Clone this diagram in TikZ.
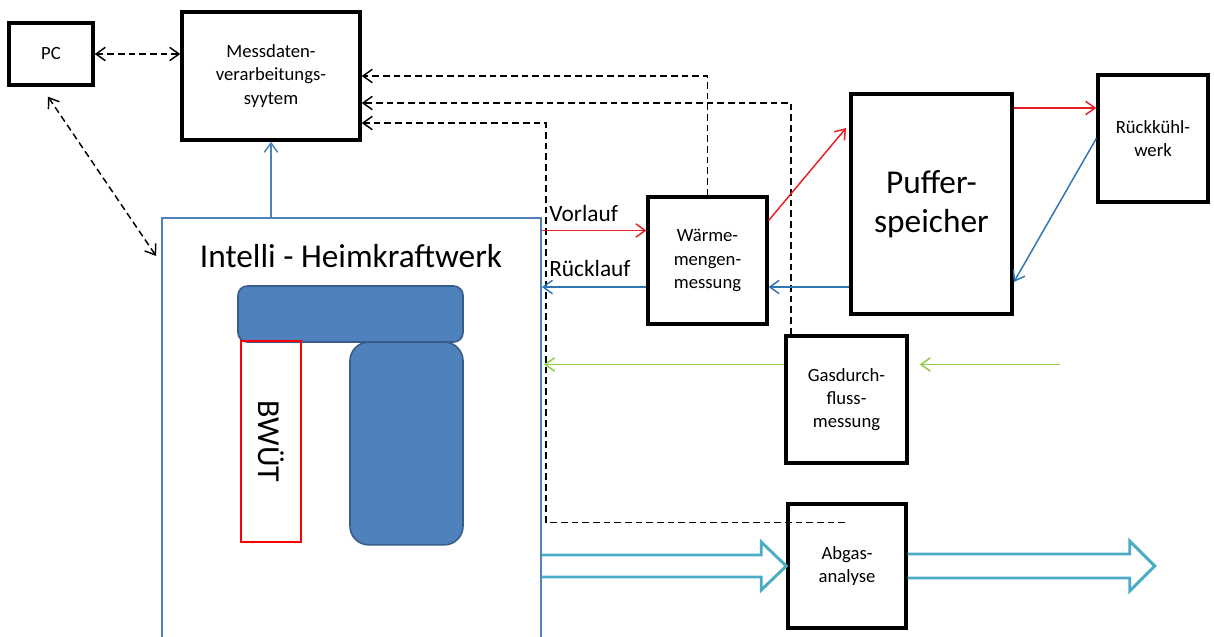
\documentclass[tikz,border=0pt]{standalone}
\usepackage{fontspec}
\setmainfont{Carlito}
\usetikzlibrary{arrows.meta,calc}
\definecolor{ihkwblue}{RGB}{79,129,189}
\definecolor{ihkwdark}{RGB}{56,93,138}
\definecolor{rlblue}{RGB}{46,117,182}
\definecolor{vlred}{RGB}{232,30,37}
\definecolor{gasgreen}{RGB}{146,208,80}
\definecolor{abgteal}{RGB}{75,172,198}

\begin{document}
\begin{tikzpicture}
[x=0.75pt, y=-0.75pt,
  >={Straight Barb[length=7pt,width=10pt]},
  box/.style={draw, line width=2.6pt, align=center, inner sep=0pt,
    font=\fontsize{14}{17.5}\selectfont},
  signal/.style={dash pattern=on 5pt off 3pt, line width=1.1pt},
  vorlauf/.style={->, draw=vlred, line width=1.1pt},
  ruecklauf/.style={->, draw=rlblue, line width=1.1pt},
  gasline/.style={->, draw=gasgreen, line width=1.2pt},
  abgas/.style={draw=abgteal, line width=2.2pt, line join=miter},
  block/.style={fill=ihkwblue, draw=ihkwdark, line width=1.2pt, inner sep=0pt},
  flowlabel/.style={font=\fontsize{17.5}{20}\selectfont, inner sep=1pt}]
\useasboundingbox (0,0) rectangle (1214,636);

% Anlage
\node[draw=ihkwblue, line width=1.6pt, minimum width=284pt, minimum height=324pt,
  inner sep=0pt] (ihkw) at (351.5,434) {};
\node[font=\fontsize{25}{29}\selectfont] (ihkwtitle) at (351,256) {Intelli - Heimkraftwerk};
\node[block, rounded corners=7pt, minimum width=168.75pt, minimum height=42pt] (motor) at (350.5,314) {};
\node[block, rounded corners=14pt, minimum width=84.75pt, minimum height=152pt] (kessel) at (406.5,443.5) {};
\node[draw=red, line width=2.2pt, rotate=-90, minimum width=150.75pt, minimum height=45pt,
  inner sep=0pt, font=\fontsize{24}{28}\selectfont] (bwut) at (271,441.5) {BWÜT};

% Messtechnik
\node[box, minimum width=63pt, minimum height=46.5pt] (pc) at (51,54) {PC};
\node[box, minimum width=133.5pt, minimum height=96pt] (msys) at (271,76) {Messdaten-\\verarbeitungs-\\syytem};
\node[box, minimum width=89pt, minimum height=95pt] (wmm) at (707.5,260.5) {Wärme-\\mengen-\\messung};
\node[box, minimum width=121pt, minimum height=165pt, font=\fontsize{25}{29}\selectfont] (puf) at (931.5,204) {Puffer-\\speicher};
\node[box, minimum width=82.5pt, minimum height=95pt] (rk) at (1153,138.5) {Rückkühl-\\werk};
\node[box, minimum width=91pt, minimum height=95pt] (gas) at (846.5,399.5) {Gasdurch-\\fluss-\\messung};
\node[box, minimum width=88.5pt, minimum height=93pt] (abg) at (847,566) {Abgas-\\analyse};

% Hilfspunkte
\coordinate (vl) at ($(wmm.west)+(0,-30)$);
\coordinate (rl) at ($(wmm.west)+(0,26.5)$);
\coordinate (vl2) at ($(rk.west)+(0,-30.5)$);
\coordinate (gl) at ($(gas.west)+(0,-35)$);
\coordinate (gasin) at ($(gas.east)+(151,-35)$);
\coordinate (exhaust) at ($(abg.east)+(247,0)$);

% Datenleitungen
\draw[signal, <->] (pc.east) -- (pc.east -| msys.west);
\draw[signal, <->] ($(pc.south)+(-3,10)$) -- ($(ihkw.north west)+(-5,39)$);
\draw[signal, ->] (wmm.north) |- (msys.east);
\draw[signal, ->] ($(gas.north west)+(7,0)$) |- ($(msys.east)+(0,27)$);
\draw[signal, ->] ($(abg.north)+(-2,20)$) -| ($(ihkw.north east)+(4,0)$) |- ($(msys.east)+(0,47)$);
\draw[->, draw=ihkwblue, line width=1.1pt] (ihkw.north -| msys.south) -- (msys.south);

% Heizkreis
\draw[vorlauf] (vl -| ihkw.east) -- node[flowlabel, pos=0, anchor=south west, xshift=4pt, yshift=5pt] {Vorlauf} (vl);
\draw[ruecklauf] (rl) -- node[flowlabel, pos=1, anchor=south west, xshift=4pt, yshift=6pt] {Rücklauf} (rl -| ihkw.east);
\draw[vorlauf] ($(wmm.east)+(0,-40)$) -- ($(puf.west)+(-3,-76)$);
\draw[ruecklauf] (rl -| puf.west) -- (rl -| wmm.east);
\draw[vorlauf] (vl2 -| puf.east) -- (vl2);
\draw[ruecklauf] (rk.west) -- ($(puf.east)+(0,78)$);

% Gas
\draw[gasline] (gl) -- ($(gl -| ihkw.east)+(2,0)$);
\draw[gasline, shorten >=8pt] (gasin) -- (gasin -| gas.east);

% Abgas
\draw[abgas] ($(ihkw.east |- abg.west)+(0,-11)$) -- ($(abg.west)+(-25,-11)$) -- ($(abg.west)+(-25,-24)$)
  -- (abg.west) -- ($(abg.west)+(-25,24)$) -- ($(abg.west)+(-25,11)$) -- ($(ihkw.east |- abg.west)+(0,11)$);
\draw[abgas] ($(abg.east)+(0,-12)$) -- ($(exhaust)+(-25,-12)$) -- ($(exhaust)+(-25,-25)$)
  -- (exhaust) -- ($(exhaust)+(-25,25)$) -- ($(exhaust)+(-25,12)$) -- ($(abg.east)+(0,12)$);
\end{tikzpicture}
\end{document}
